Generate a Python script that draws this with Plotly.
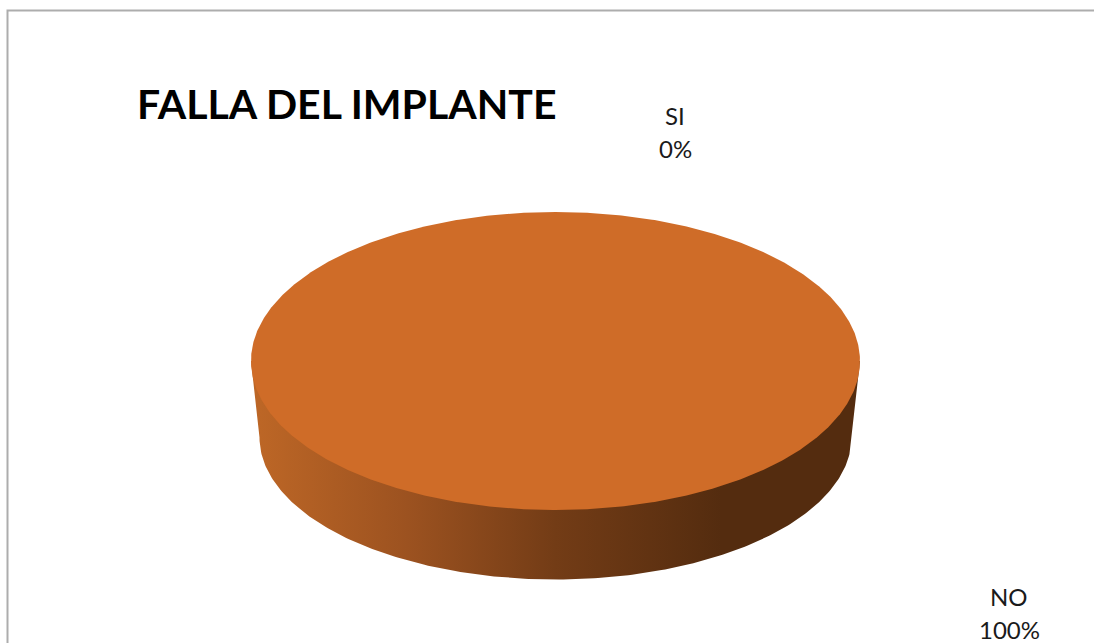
import numpy as np
import plotly.graph_objects as go

title_text = "FALLA DEL IMPLANTE"
categories = ["SI", "NO"]
values = [0, 100]
slice_colors = ["#4F81BD", "#CF6C28"]
wall_stops = [[0, "#BC6626"], [0.25, "#9C5220"], [0.5, "#733C16"], [0.78, "#542C0F"], [1, "#542C0F"]]
label_pos = [(675, 132), (1009, 613)]

W, H = 1094, 643
CX, CY, RX, RY = 555.5, 361, 304.5, 149
LCY, LRX, LRY = 437.5, 296, 142
LINE_GAP = 33
total = sum(values)

fig = go.Figure()

# wall of the disc: everything below the top face, for the part of each slice that faces us
for value in values:
    if value == 0:
        continue
    t = np.linspace(0, np.pi, 241)
    xs = np.r_[CX + RX, CX + LRX * np.cos(t), CX - RX]
    ys = np.r_[CY, LCY + LRY * np.sin(t), CY]
    fig.add_trace(go.Scatter(
        x=xs, y=ys, mode="lines", line=dict(width=0), fill="toself",
        fillgradient=dict(type="horizontal", colorscale=wall_stops, start=CX - LRX, stop=CX + LRX),
        hoverinfo="skip", showlegend=False))

# top face, one sector per value, clockwise from 12 o'clock
start = 0.0
for cat, value, color in zip(categories, values, slice_colors):
    frac = value / total
    if frac > 0:
        a = np.linspace(start, start + frac, 721) * 2 * np.pi
        xs = CX + RX * np.sin(a)
        ys = CY - RY * np.cos(a)
        if frac < 1:
            xs, ys = np.r_[CX, xs, CX], np.r_[CY, ys, CY]
        fig.add_trace(go.Scatter(
            x=xs, y=ys, mode="lines", line=dict(width=0), fill="toself",
            fillcolor=color, name=cat, hoverinfo="name", showlegend=False))
    start += frac

for cat, value, (lx, ly) in zip(categories, values, label_pos):
    for text, yy in ((cat, ly - LINE_GAP / 2), (f"{round(value / total * 100)}%", ly + LINE_GAP / 2)):
        fig.add_annotation(x=lx, y=yy, xref="x", yref="y", showarrow=False, text=text,
                           font=dict(family="Lato", size=24, color="#1a1a1a"), align="center")

fig.add_annotation(x=347, y=103, xref="x", yref="y", showarrow=False, text=f"<b>{title_text}</b>",
                   font=dict(family="Lato", size=41, color="#000000"))

fig.add_shape(type="path", path=f"M 7.5 {H+5} L 7.5 10.5 L {W+5} 10.5",
              line=dict(color="#ADADAD", width=2), xref="x", yref="y", layer="below")

fig.update_layout(
    width=W, height=H, margin=dict(l=0, r=0, t=0, b=0),
    paper_bgcolor="white", plot_bgcolor="white", showlegend=False,
    xaxis=dict(range=[0, W], visible=False, fixedrange=True),
    yaxis=dict(range=[H, 0], visible=False, fixedrange=True),
)
fig.write_html("out.html", config={"displayModeBar": False, "responsive": False},
               post_script="document.body.style.margin='0';document.documentElement.style.overflow='hidden';")
